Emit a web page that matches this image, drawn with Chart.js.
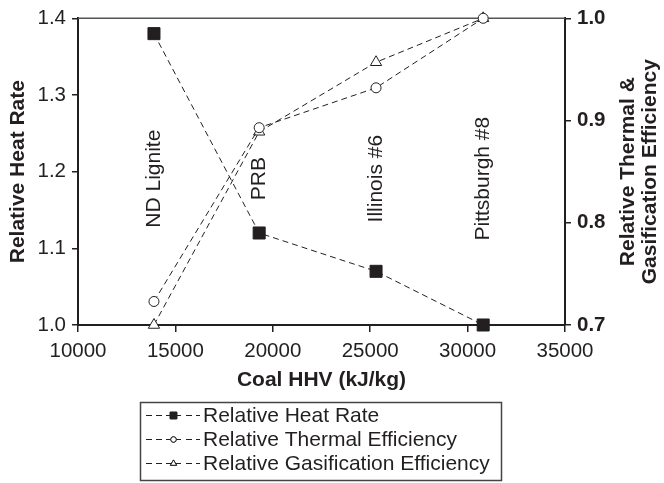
<!DOCTYPE html>
<html>
<head>
<meta charset="utf-8">
<script src="https://cdn.jsdelivr.net/npm/chart.js@4.4.0/dist/chart.umd.min.js"></script>
<style>
  html, body { margin: 0; padding: 0; background: #fff; }
</style>
</head>
<body>
<canvas id="coalChart" width="664" height="483"></canvas>
<script>
// coal ranks and their higher heating value (kJ/kg)
const coals = ["ND Lignite", "PRB", "Illinois #6", "Pittsburgh #8"];
const coalHHV = [13900, 19300, 25300, 30800];

// relative performance, normalised to Pittsburgh #8
const heatRate = [1.38, 1.12, 1.07, 1.00];
const thermalEff = [0.723, 0.893, 0.932, 1.00];
const gasifEff = [0.70, 0.889, 0.957, 1.00];

const seriesNames = ["Relative Heat Rate", "Relative Thermal Efficiency", "Relative Gasification Efficiency"];
const rightTitle = ["Relative Thermal &", "Gasification Efficiency"];

const INK = "#231f20";
const FONT = "'Liberation Sans', Arial, sans-serif";

const pts = ys => coalHHV.map((x, i) => ({ x: x, y: ys[i] }));

// coal names written vertically above each point
const coalLabels = {
  id: "coalLabels",
  afterDatasetsDraw(chart) {
    const { ctx, chartArea } = chart;
    const xs = chart.scales.x;
    const yMid = (chartArea.top + chartArea.bottom) / 2 + 7;
    ctx.save();
    ctx.fillStyle = INK;
    ctx.font = "21px " + FONT;
    ctx.textAlign = "center";
    ctx.textBaseline = "middle";
    coals.forEach((name, i) => {
      ctx.save();
      ctx.translate(xs.getPixelForValue(coalHHV[i]), yMid);
      ctx.rotate(-Math.PI / 2);
      ctx.fillText(name, 0, 0);
      ctx.restore();
    });
    ctx.restore();
  }
};

// legend sample: short dashes either side of a solid stub carrying the marker
const sampleSegments = [[146, 152], [156, 162], [166, 181], [186, 192], [196, 200]];

// top frame line, right-hand axis title and the boxed legend
const frame = {
  id: "frame",
  beforeDatasetsDraw(chart) {
    const { ctx, chartArea } = chart;
    ctx.save();
    ctx.strokeStyle = "#555";
    ctx.lineWidth = 1.5;
    ctx.beginPath();
    ctx.moveTo(chartArea.left, chartArea.top);
    ctx.lineTo(chartArea.right, chartArea.top);
    ctx.stroke();
    ctx.restore();
  },
  afterDraw(chart) {
    const { ctx, chartArea } = chart;
    ctx.save();

    // right axis title, reading upwards
    ctx.fillStyle = INK;
    ctx.font = "bold 21px " + FONT;
    ctx.textAlign = "center";
    ctx.textBaseline = "middle";
    const yMid = (chartArea.top + chartArea.bottom) / 2;
    rightTitle.forEach((line, i) => {
      ctx.save();
      ctx.translate(628 + i * 22, yMid);
      ctx.rotate(-Math.PI / 2);
      ctx.fillText(line, 0, 0);
      ctx.restore();
    });

    // legend
    ctx.strokeStyle = "#444";
    ctx.lineWidth = 1.5;
    ctx.strokeRect(140.5, 402.5, 361, 78);
    ctx.font = "21px " + FONT;
    ctx.textAlign = "left";
    chart.data.datasets.forEach((ds, i) => {
      const y = 415.5 + i * 24;
      ctx.strokeStyle = INK;
      ctx.lineWidth = 1;
      ctx.beginPath();
      sampleSegments.forEach(([a, b]) => {
        ctx.moveTo(a, y);
        ctx.lineTo(b, y);
      });
      ctx.stroke();
      Chart.helpers.drawPoint(ctx, {
        pointStyle: ds.pointStyle,
        radius: ds.pointRadius * 0.55,
        borderWidth: 1
      }, 173.5, y);
      ctx.fillStyle = ds.pointBackgroundColor;
      ctx.fill();
      ctx.strokeStyle = INK;
      ctx.stroke();
      ctx.fillStyle = INK;
      ctx.fillText(ds.label, 203, y + 0.5);
    });
    ctx.restore();
  }
};

const lineStyle = {
  borderColor: INK,
  borderWidth: 1,
  borderDash: [6, 4],
  pointBorderColor: INK,
  pointBorderWidth: 1,
  fill: false,
  tension: 0,
  clip: false
};

new Chart(document.getElementById("coalChart"), {
  type: "line",
  data: {
    datasets: [
      Object.assign({}, lineStyle, {
        label: seriesNames[0],
        data: pts(heatRate),
        yAxisID: "y",
        pointStyle: "rect",
        pointRadius: 8.5,
        pointBackgroundColor: INK
      }),
      Object.assign({}, lineStyle, {
        label: seriesNames[1],
        data: pts(thermalEff),
        yAxisID: "y2",
        pointStyle: "circle",
        pointRadius: 5,
        pointBackgroundColor: "#fff"
      }),
      Object.assign({}, lineStyle, {
        label: seriesNames[2],
        data: pts(gasifEff),
        yAxisID: "y2",
        pointStyle: "triangle",
        pointRadius: 6.5,
        pointBackgroundColor: "#fff"
      })
    ]
  },
  options: {
    responsive: false,
    animation: false,
    layout: { padding: { top: 18, left: 0, right: 0, bottom: 0 } },
    plugins: {
      legend: { display: false },
      tooltip: { enabled: false }
    },
    scales: {
      x: {
        type: "linear",
        min: 10000,
        max: 35000,
        afterFit: s => { s.height = 158; },
        ticks: {
          stepSize: 5000,
          padding: 7,
          color: INK,
          font: { family: FONT, size: 20.5 },
          callback: v => String(v)
        },
        grid: { drawOnChartArea: false, tickLength: 7, color: INK, lineWidth: 1.5 },
        border: { color: INK, width: 2 },
        title: {
          display: true,
          text: "Coal HHV (kJ/kg)",
          color: INK,
          font: { family: FONT, size: 21, weight: "bold" },
          padding: { top: 0, bottom: 90 }
        }
      },
      y: {
        position: "left",
        min: 1.0,
        max: 1.4,
        afterFit: s => { s.width = 78; },
        ticks: {
          stepSize: 0.1,
          padding: 6,
          color: INK,
          font: { family: FONT, size: 20.5 },
          callback: v => v.toFixed(1)
        },
        grid: { drawOnChartArea: false, tickLength: 6, color: INK, lineWidth: 1.5 },
        border: { color: INK, width: 2 },
        title: {
          display: true,
          text: "Relative Heat Rate",
          color: INK,
          font: { family: FONT, size: 21, weight: "bold" },
          padding: { top: 6, bottom: 0 }
        }
      },
      y2: {
        position: "right",
        min: 0.7,
        max: 1.0,
        afterFit: s => { s.width = 99; },
        ticks: {
          stepSize: 0.1,
          padding: 6,
          color: INK,
          font: { family: FONT, size: 20.5, weight: "bold" },
          callback: v => v.toFixed(1)
        },
        grid: { drawOnChartArea: false, tickLength: 6, color: INK, lineWidth: 1.5 },
        border: { color: INK, width: 2 }
      }
    }
  },
  plugins: [coalLabels, frame]
});
</script>
</body>
</html>
